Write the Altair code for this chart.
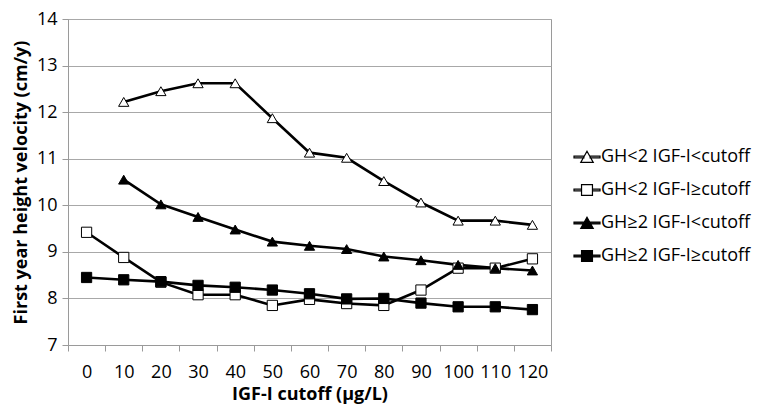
import altair as alt
import pandas as pd

cutoffs = [0, 10, 20, 30, 40, 50, 60, 70, 80, 90, 100, 110, 120]
series_names = ["GH<2 IGF-I<cutoff", "GH<2 IGF-I≥cutoff", "GH≥2 IGF-I<cutoff", "GH≥2 IGF-I≥cutoff"]
gh_lt2_igf_lt = [None, 12.22, 12.45, 12.62, 12.62, 11.87, 11.13, 11.02, 10.52, 10.06, 9.67, 9.67, 9.58]
gh_lt2_igf_ge = [9.42, 8.88, 8.35, 8.08, 8.08, 7.85, 7.98, 7.89, 7.85, 8.18, 8.65, 8.65, 8.85]
gh_ge2_igf_lt = [None, 10.55, 10.02, 9.75, 9.48, 9.22, 9.13, 9.06, 8.90, 8.82, 8.72, 8.65, 8.60]
gh_ge2_igf_ge = [8.45, 8.40, 8.36, 8.28, 8.24, 8.18, 8.10, 7.99, 8.00, 7.90, 7.82, 7.82, 7.76]
y_ticks = [7, 8, 9, 10, 11, 12, 13, 14]

rows = []
for name, vals in zip(series_names, [gh_lt2_igf_lt, gh_lt2_igf_ge, gh_ge2_igf_lt, gh_ge2_igf_ge]):
    for c, v in zip(cutoffs, vals):
        if v is not None:
            rows.append({"cutoff": str(c), "value": v, "series": name})
df = pd.DataFrame(rows)

FONT = "Open Sans"
x_order = [str(c) for c in cutoffs]

x_enc = alt.X(
    "cutoff:O", sort=x_order,
    scale=alt.Scale(type="band", paddingInner=0, paddingOuter=0),
    axis=alt.Axis(title="IGF-I cutoff (µg/L)", labelAngle=0, tickBand="extent",
                  tickSize=6, labelPadding=12, titleY=54, titleBaseline="alphabetic",
                  grid=False),
)
y_enc = alt.Y(
    "value:Q", scale=alt.Scale(domain=[7, 14], nice=False, zero=False),
    axis=alt.Axis(title="First year height velocity (cm/y)", values=y_ticks, tickSize=6,
                  labelPadding=5, titleX=-47, titleBaseline="middle", grid=True),
)

lines = alt.Chart().mark_line(color="black", strokeWidth=2.6).encode(
    x=x_enc, y=y_enc, detail="series:N"
)

marker_shapes = ["triangle-up", "square", "triangle-up", "square"]
fills = ["white", "white", "black", "black"]
strokes = ["black", "black", "black", "black"]

points = alt.Chart().mark_point(stroke="black", strokeWidth=1, opacity=1, size=105).encode(
    x=x_enc, y=y_enc,
    shape=alt.Shape("series:N", scale=alt.Scale(domain=series_names, range=marker_shapes), legend=None),
    fill=alt.Fill("series:N", scale=alt.Scale(domain=series_names, range=fills), legend=None),
)

tri_path = ("M-1,-0.06H-0.24V0.06H-1Z M0.24,-0.06H1V0.06H0.24Z "
            "M0,-0.44L0.48,0.42H-0.48Z")
sq_path = ("M-1,-0.06H-0.42V0.06H-1Z M0.42,-0.06H1V0.06H0.42Z "
           "M-0.42,-0.42H0.42V0.42H-0.42Z")
legend_shapes = [tri_path, sq_path, tri_path, sq_path]

leg = alt.Legend(title=None, orient="none", legendX=505, legendY=124, symbolSize=676,
                 symbolStrokeWidth=1.2, symbolStrokeColor="black", labelFont=FONT,
                 labelFontSize=18, labelColor="black", labelOffset=0, rowPadding=10, padding=0,
                 labelLimit=300, symbolOpacity=1)

legend_layer = alt.Chart().mark_point(strokeWidth=1.2, opacity=1).encode(
    x=x_enc, y=y_enc,
    shape=alt.Shape("series:N", scale=alt.Scale(domain=series_names, range=legend_shapes), legend=leg),
    fill=alt.Fill("series:N", scale=alt.Scale(domain=series_names, range=fills), legend=leg),
    stroke=alt.Stroke("series:N", scale=alt.Scale(domain=series_names, range=strokes), legend=leg),
).transform_filter("false")

chart = alt.layer(lines, points, legend_layer, data=df).resolve_scale(
    shape="independent", fill="independent", stroke="independent"
).properties(
    width=483, height=326,
    padding={"left": 60, "top": 11, "right": 201, "bottom": 61},
    autosize=alt.AutoSizeParams(type="none"),
).configure_view(
    stroke="#9a9a9a", strokeWidth=1
).configure_axis(
    labelFont=FONT, labelFontSize=18, labelColor="black",
    titleFont=FONT, titleFontSize=18, titleFontWeight="bold", titleColor="black",
    domainColor="#9a9a9a", tickColor="#9a9a9a", gridColor="#a8a8a8", gridWidth=1,
)

chart.save("out.html", embed_options={"renderer": "svg", "actions": False})
